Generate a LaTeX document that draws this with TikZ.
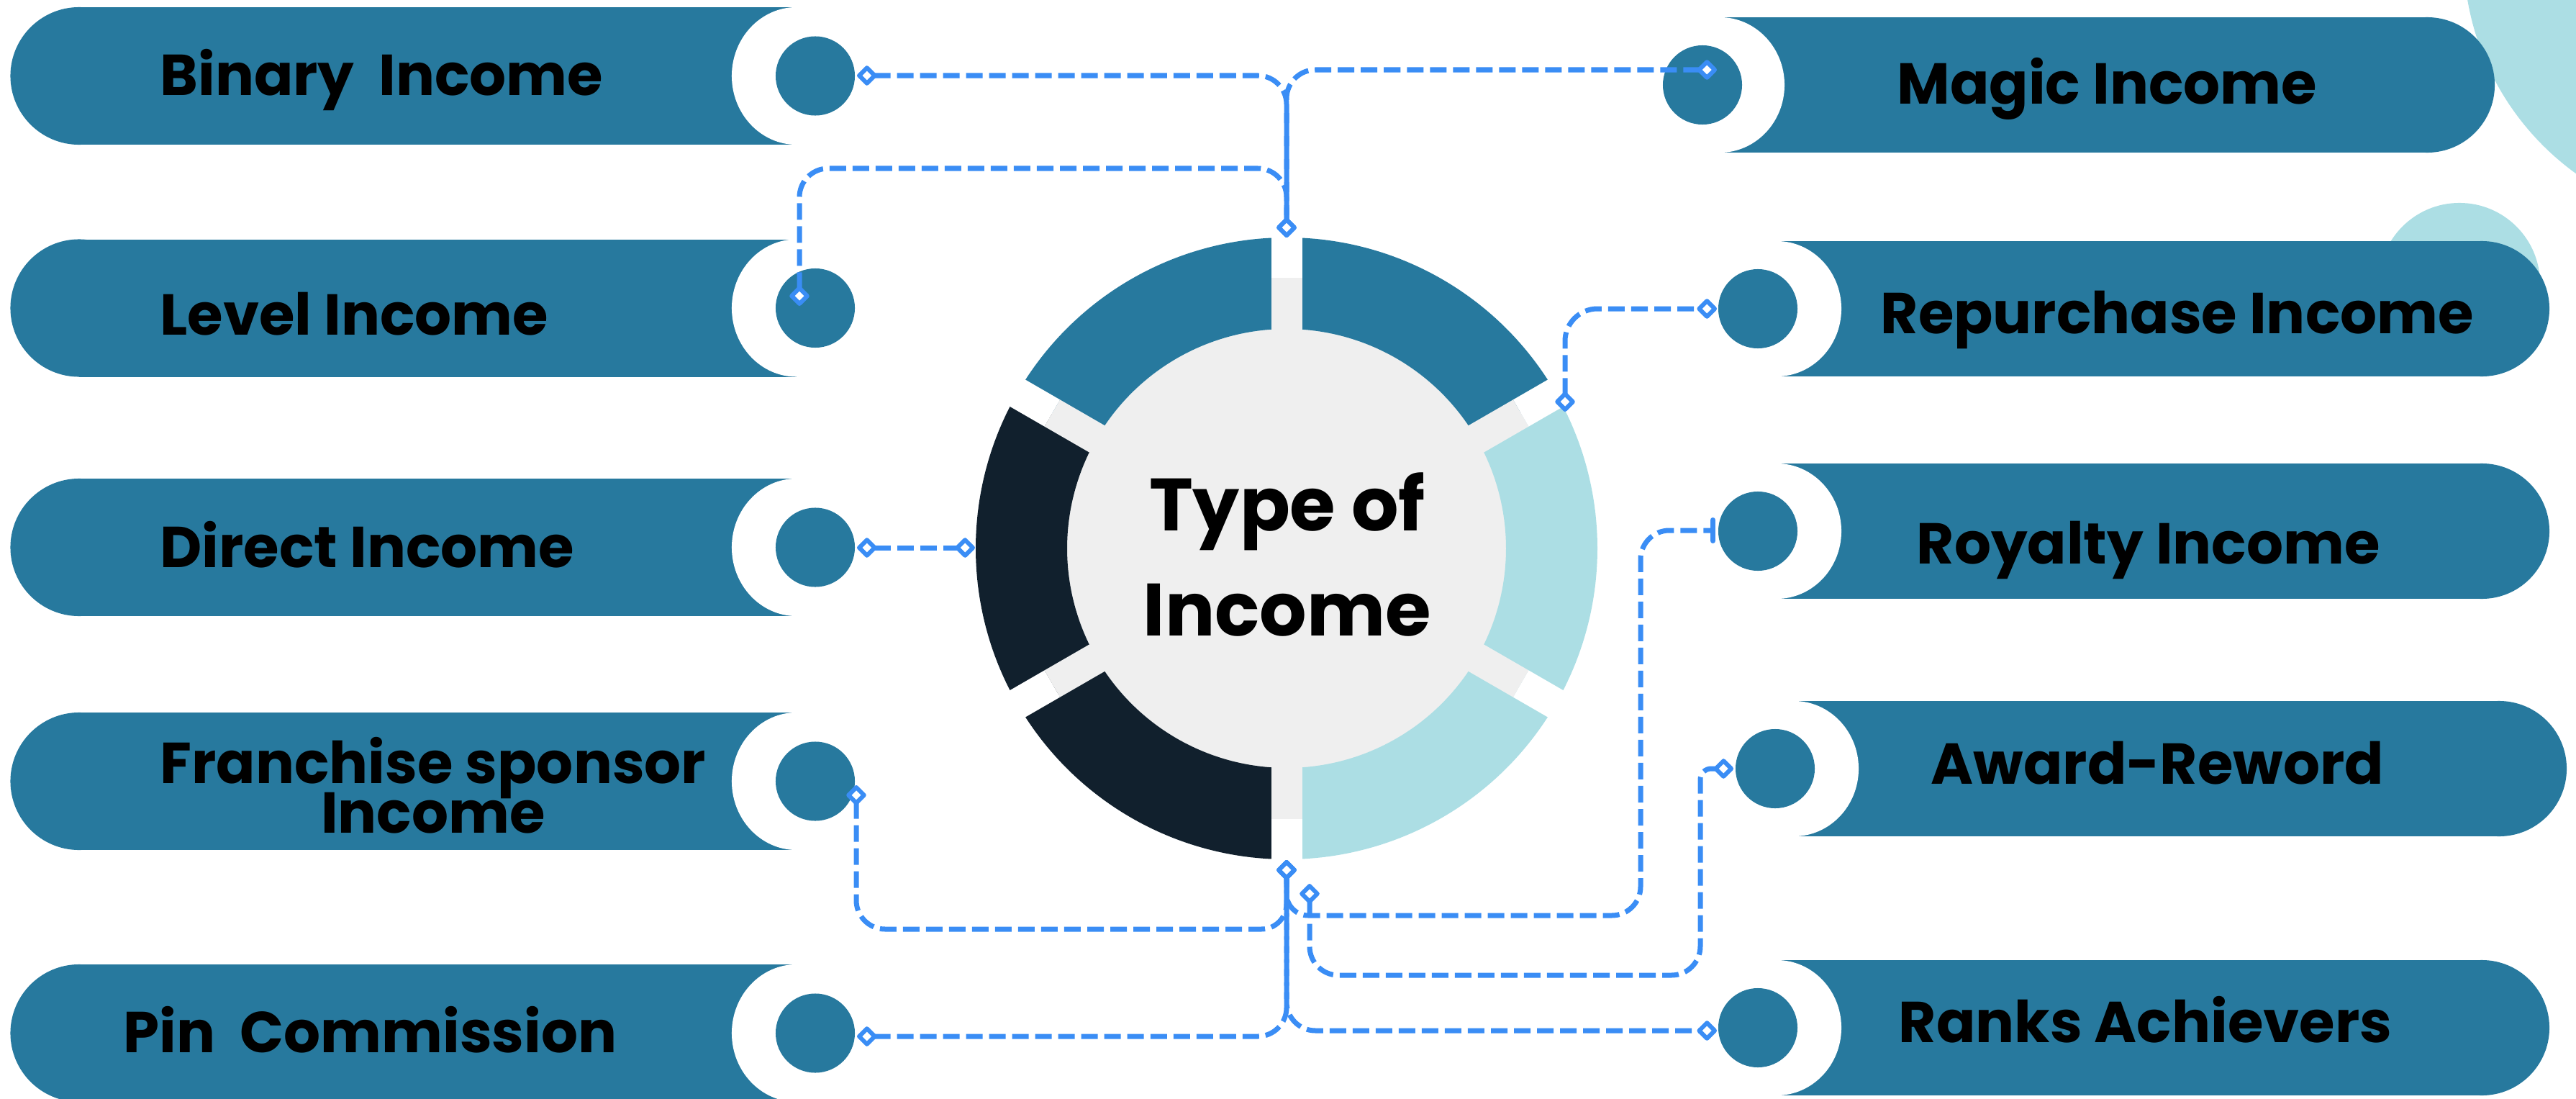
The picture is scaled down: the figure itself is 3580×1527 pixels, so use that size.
\documentclass[tikz,border=0pt]{standalone}
\usepackage{fontspec}
\newfontfamily\pop{Poppins}
\usetikzlibrary{arrows.meta}
\definecolor{teal1}{HTML}{27799E}
\definecolor{navy1}{HTML}{11202D}
\definecolor{light1}{HTML}{ACDEE4}
\definecolor{gray1}{HTML}{EFEFEF}
\definecolor{link1}{HTML}{3A8DF5}
\newcommand{\tightlines}{\lineskiplimit=-100pt\relax}
\tikzset{
  dtip/.tip={Diamond[fill=white, length=0.3cm, width=0.3cm, line width=0.06cm, round]},
  btip/.tip={Bar[width=0.29cm, line width=0.07cm, round]},
  barfill/.style={fill=teal1},
  face/.style={fill=white},
  deco/.style={fill=light1},
  hole/.style={circle, fill=teal1, minimum size=1.1cm, inner sep=0pt, outer sep=0pt},
  lbl/.style={font=\pop\bfseries\fontsize{22.8pt}{28pt}\selectfont, text=black, inner sep=0pt, anchor=base west},
  link/.style={draw=link1, line width=0.07cm, dash pattern=on 0.23cm off 0.09cm, rounded corners=0.4cm},
}
\newcommand{\lbarshape}[1]{%
  \fill[barfill] (110,#1) circle[radius=0.955cm];
  \fill[barfill] (110,#1-95.5) rectangle (1107,#1+95.5);
  \fill[face] (1107,#1) ellipse[x radius=0.9cm, y radius=0.955cm];
}
\newcommand{\rbarshape}[3]{%
  \fill[barfill] (#2-94,#3) circle[radius=0.94cm];
  \fill[barfill] (#1,#3-94) rectangle (#2-94,#3+94);
  \fill[face] (#1,#3) ellipse[x radius=0.9cm, y radius=0.94cm];
}
\begin{document}
\begin{tikzpicture}[x=0.01cm, y=-0.01cm]
\useasboundingbox (0,0) rectangle (3580,1527);
% decorative circles
\fill[deco] (3800,-64) circle[radius=3.76cm];
\fill[deco] (3418,394) circle[radius=1.12cm];
% left bars
\lbarshape{105.5}
\lbarshape{428}
\lbarshape{760.5}
\lbarshape{1085.5}
\lbarshape{1435.5}
\node[hole] (binC) at (1133,105.5) {};
\node[hole] (levC) at (1133,428) {};
\node[hole] (dirC) at (1133,760.5) {};
\node[hole] (fraC) at (1133,1085.5) {};
\node[hole] (pinC) at (1133,1435.5) {};
% right bars
\rbarshape{2390}{3467}{118}
\rbarshape{2469}{3543}{429}
\rbarshape{2469}{3543}{738}
\rbarshape{2493}{3567}{1068}
\rbarshape{2469}{3543}{1428}
\node[hole] (magC) at (2366,118) {};
\node[hole] (repC) at (2443,429) {};
\node[hole] (royC) at (2443,738) {};
\node[hole] (awdC) at (2467,1068) {};
\node[hole] (rnkC) at (2443,1428) {};
% central ring
\coordinate (C) at (1788,762);
\begin{scope}[shift={(C)}, x=0.01cm, y=0.01cm]
  \fill[gray1] (0,0) circle[radius=3.76cm];
  \foreach \a/\b/\col in {30/90/teal1, 90/150/teal1, 150/210/navy1, 210/270/navy1, 270/330/light1, 330/390/light1}
    \fill[\col] (\a:432) arc[start angle=\a, end angle=\b, radius=432] -- (\b:305) arc[start angle=\b, end angle=\a, radius=305] -- cycle;
  \foreach \a in {30,90,150,210,270,330} {
    \draw[white, line width=0.43cm] (\a:376) -- (\a:446);
    \draw[gray1, line width=0.43cm] (\a:290) -- (\a:376);
  }
\end{scope}
\node[font=\pop\bfseries\fontsize{29.3pt}{41.5pt}\selectfont, align=center, anchor=base, inner sep=0pt] (ctr) at (1789,883) {Type of\\Income};
% connector end points
\coordinate (topT) at (1788,330);
\coordinate (botT) at (1788,1195);
\coordinate (binE) at (1191,105);
\coordinate (magE) at (2386,97);
\coordinate (levE) at (1111,425);
\coordinate (dirE) at (1191,761);
\coordinate (ringL) at (1355,761);
\coordinate (repS) at (2175,572);
\coordinate (repE) at (2386,429);
\coordinate (royE) at (2384,737);
\coordinate (awdS) at (1820,1228);
\coordinate (awdE) at (2409,1068);
\coordinate (fraE) at (1190,1091);
\coordinate (pinE) at (1191,1440);
\coordinate (rnkE) at (2386,1432);
% connectors
\draw[link, dtip-dtip] (binE) -- (binE -| topT) -- (topT);
\draw[link, dtip-dtip] (magE) -- (magE -| topT) -- (topT);
\draw[link, dtip-dtip] (levE) -- (1111,234) -- (1788,234) -- (topT);
\draw[link, dtip-dtip] (dirE) -- (ringL);
\draw[link, dtip-dtip, rounded corners=0.45cm] (repS) -- (2175,429) -- (repE);
\draw[link, dtip-btip] (botT) [rounded corners=0.3cm] -- (1788,1272) [rounded corners=0.4cm] -- (2280,1272) -- (2280,737) -- (royE);
\draw[link, dtip-dtip] (awdS) -- (1820,1355) -- (2363,1355) [rounded corners=0.15cm] -- (2363,1068) -- (awdE);
\draw[link, dtip-dtip] (fraE) -- (1190,1291) [rounded corners=0.35cm] -- (1788,1291) -- (botT);
\draw[link, dtip-dtip] (pinE) -- (1788,1440) -- (botT);
\draw[link, dtip-dtip] (botT) -- (1788,1432) -- (rnkE);
% labels
\node[lbl] (binT) at (222,132) {Binary\ \ Income};
\node[lbl] (levT) at (222,465) {Level Income};
\node[lbl] (dirT) at (222,788) {Direct Income};
\node[lbl, anchor=base, align=center, font={\pop\bfseries\fontsize{22.8pt}{19.35pt}\selectfont\tightlines}] (fraT) at (602,1157) {Franchise sponsor\\Income};
\node[lbl] (pinT) at (171,1462) {Pin\ \ Commission};
\node[lbl] (magT) at (2636,144) {Magic Income};
\node[lbl] (repT) at (2613,463) {Repurchase Income};
\node[lbl] (royT) at (2663,783) {Royalty Income};
\node[lbl] (awdT) at (2683,1089) {Award-Reword};
\node[lbl] (rnkT) at (2638,1448) {Ranks Achievers};
\end{tikzpicture}
\end{document}
